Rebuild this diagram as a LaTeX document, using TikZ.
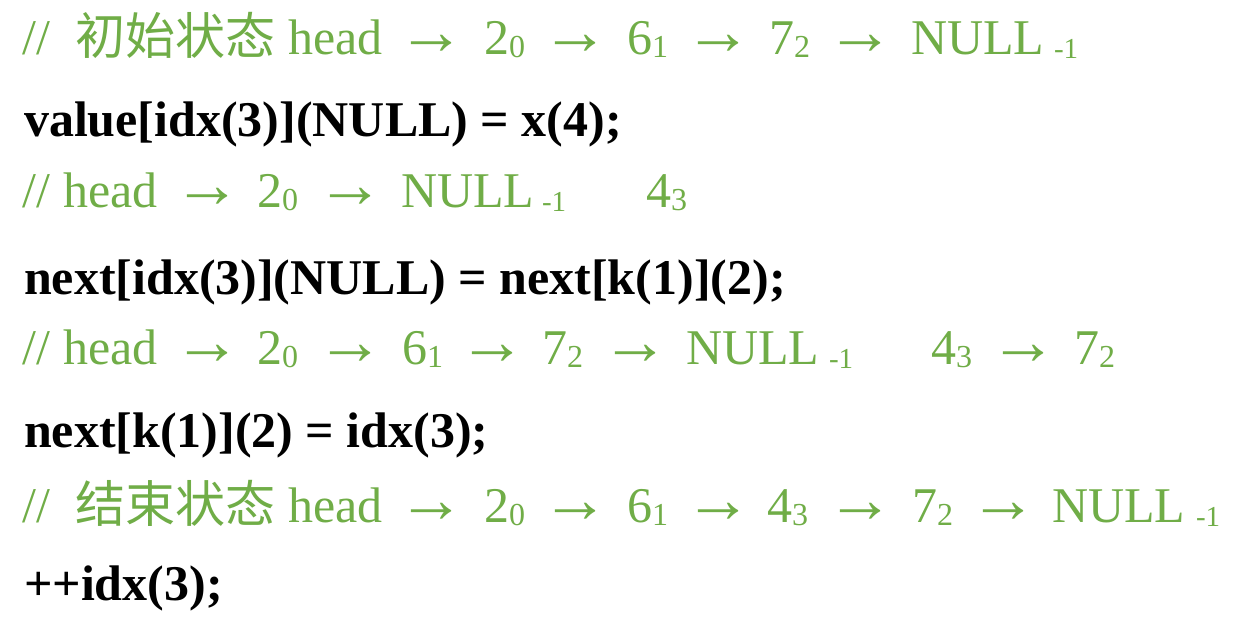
\documentclass[tikz,border=0pt]{standalone}
\usepackage{fontspec}
\setmainfont{Liberation Serif}
\newfontfamily\cjk{Noto Sans CJK SC}
\definecolor{cmt}{HTML}{70AD47}
\tikzset{
  g/.style={anchor=base west, inner sep=0pt, outer sep=0pt, text=cmt, font=\fontsize{50}{60}\selectfont},
  code/.style={anchor=base west, inner sep=0pt, outer sep=0pt, text=black, font=\fontsize{50}{60}\selectfont\bfseries},
  ar/.style={anchor=base, inner sep=0pt, outer sep=0pt, text=cmt, font=\fontsize{68}{70}\selectfont},
  zh/.style={anchor=base west, inner sep=0pt, outer sep=0pt, text=cmt, font=\fontsize{50}{60}\selectfont\cjk},
}
\newcommand\subn[1]{\raisebox{-3pt}{\fontsize{32}{32}\selectfont #1}}
\newcommand\subm{\raisebox{-4pt}{\fontsize{29}{29}\selectfont -1}}
\begin{document}
\begin{tikzpicture}[x=1pt,y=-1pt]
\useasboundingbox (0,0) rectangle (1260,625);
% line 1
\node[g]  (a1)  at (23,54)   {//};
\node[zh] (a2)  at (75,54)   {初始状态};
\node[g]  (a3)  at (288,54)  {head};
\node[ar] (a4)  at (431,54)  {→};
\node[g]  (a5)  at (484,54)  {2\subn{0}};
\node[ar] (a6)  at (575,54)  {→};
\node[g]  (a7)  at (627,54)  {6\subn{1}};
\node[ar] (a8)  at (718,54)  {→};
\node[g]  (a9)  at (769,54)  {7\subn{2}};
\node[ar] (a10) at (860,54)  {→};
\node[g]  (a11) at (911,54)  {NULL};
\node[g]  (a12) at (1054,54) {\subm};
% line 2
\node[code] (b1) at (24,136) {value[idx(3)](NULL) = x(4);};
% line 3
\node[g]  (c1)  at (23,207)  {// head};
\node[ar] (c2)  at (207,207) {→};
\node[g]  (c3)  at (257,207) {2\subn{0}};
\node[ar] (c4)  at (350,207) {→};
\node[g]  (c5)  at (401,207) {NULL};
\node[g]  (c6)  at (542,207) {\subm};
\node[g]  (c7)  at (646,207) {4\subn{3}};
% line 4
\node[code] (d1) at (24,294) {next[idx(3)](NULL) = next[k(1)](2);};
% line 5
\node[g]  (e1)  at (23,364)  {// head};
\node[ar] (e2)  at (207,364) {→};
\node[g]  (e3)  at (257,364) {2\subn{0}};
\node[ar] (e4)  at (350,364) {→};
\node[g]  (e5)  at (402,364) {6\subn{1}};
\node[ar] (e6)  at (492,364) {→};
\node[g]  (e7)  at (542,364) {7\subn{2}};
\node[ar] (e8)  at (635,364) {→};
\node[g]  (e9)  at (686,364) {NULL};
\node[g]  (e10) at (829,364) {\subm};
\node[g]  (e11) at (931,364) {4\subn{3}};
\node[ar] (e12) at (1023,364) {→};
\node[g]  (e13) at (1074,364) {7\subn{2}};
% line 6
\node[code] (f1) at (24,447) {next[k(1)](2) = idx(3);};
% line 7
\node[g]  (h1)  at (23,522)  {//};
\node[zh] (h2)  at (75,522)  {结束状态};
\node[g]  (h3)  at (288,522) {head};
\node[ar] (h4)  at (431,522) {→};
\node[g]  (h5)  at (484,522) {2\subn{0}};
\node[ar] (h6)  at (575,522) {→};
\node[g]  (h7)  at (627,522) {6\subn{1}};
\node[ar] (h8)  at (718,522) {→};
\node[g]  (h9)  at (767,522) {4\subn{3}};
\node[ar] (h10) at (860,522) {→};
\node[g]  (h11) at (912,522) {7\subn{2}};
\node[ar] (h12) at (1003,522) {→};
\node[g]  (h13) at (1052,522) {NULL};
\node[g]  (h14) at (1196,522) {\subm};
% line 8
\node[code] (k1) at (24,600) {++idx(3);};
\end{tikzpicture}
\end{document}
